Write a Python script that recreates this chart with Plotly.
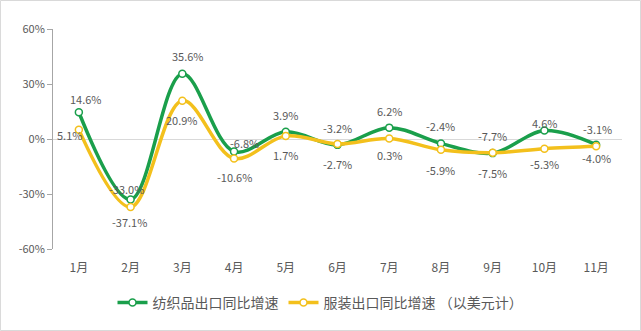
import plotly.graph_objects as go

months = ["1月", "2月", "3月", "4月", "5月", "6月", "7月", "8月", "9月", "10月", "11月"]
textile = [14.6, -33.0, 35.6, -6.8, 3.9, -3.2, 6.2, -2.4, -7.7, 4.6, -3.1]
apparel = [5.1, -37.1, 20.9, -10.6, 1.7, -2.7, 0.3, -5.9, -7.5, -5.3, -4.0]
name_textile = "纺织品出口同比增速"
name_apparel = "服装出口同比增速 （以美元计）"
y_ticks = [60, 30, 0, -30, -60]

# label offsets (pixels) relative to each point
t_dx = [7, -4, 6, 10, 0, 0, 0, 0, 0, 0, 1]
t_dy = [13, 11, 18, 8, 17, 17, 17, 17, 17, 8, 16]
a_dx = [-9, -1, 0, 0, 0, 0, 0, 0, 0, 0, 0]
a_dy = [-5, -15, -19, -19, -19, -20, -17, -20, -20, -15, -12]

GREEN = "#1A9F4B"
YELLOW = "#F3C01C"
FONT = "Noto Sans CJK SC"

fig = go.Figure()
fig.add_trace(go.Scatter(
    x=months, y=textile, name=name_textile, mode="lines+markers",
    line=dict(color=GREEN, width=3.5, shape="spline", smoothing=1),
    marker=dict(color="white", size=7, line=dict(color=GREEN, width=1.5)),
))
fig.add_trace(go.Scatter(
    x=months, y=apparel, name=name_apparel, mode="lines+markers",
    line=dict(color=YELLOW, width=3.5, shape="spline", smoothing=1),
    marker=dict(color="white", size=7, line=dict(color=YELLOW, width=1.5)),
))

annotations = []
for i, m in enumerate(months):
    annotations.append(dict(x=m, y=textile[i], text=f"{textile[i]:.1f}%", showarrow=False,
                            xshift=t_dx[i], yshift=t_dy[i],
                            font=dict(family=FONT, size=11, color="#595959")))
    annotations.append(dict(x=m, y=apparel[i], text=f"{apparel[i]:.1f}%", showarrow=False,
                            xshift=a_dx[i], yshift=a_dy[i],
                            font=dict(family=FONT, size=11, color="#595959")))

fig.update_layout(
    width=641, height=331,
    margin=dict(l=53, r=19, t=29, b=82),
    paper_bgcolor="white", plot_bgcolor="white",
    font=dict(family=FONT, color="#595959", size=11),
    annotations=annotations,
    showlegend=True,
    legend=dict(orientation="h", xref="container", yref="container", x=0.5, xanchor="center",
                y=0.085, yanchor="middle", font=dict(size=14, color="#595959"),
                itemwidth=30),
    xaxis=dict(type="category", range=[-0.5, 10.5], showgrid=False, showline=False,
               zeroline=False, ticks="", tickfont=dict(size=12, color="#595959"),
               ticklabelstandoff=10),
    yaxis=dict(range=[-60, 60], tickvals=y_ticks, ticktext=[f"{v}%" for v in y_ticks],
               showgrid=False, showline=True, linecolor="#A6A6A6", linewidth=1,
               ticks="outside", ticklen=5, tickcolor="#A6A6A6",
               zeroline=True, zerolinecolor="#D9D9D9", zerolinewidth=1,
               tickfont=dict(size=11, color="#595959")),
    shapes=[dict(type="rect", xref="paper", yref="paper",
                 x0=-0.0923, x1=1.0325, y0=-0.3705, y1=1.1295,
                 line=dict(color="#D9D9D9", width=1), layer="below")],
)

fig.write_html("out.html")
